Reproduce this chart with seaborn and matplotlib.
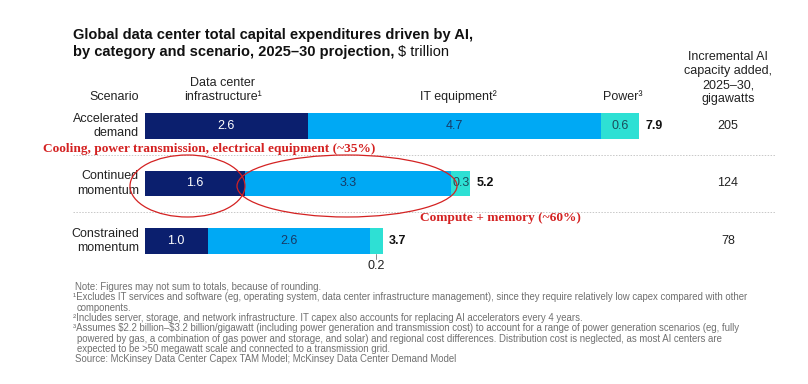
import numpy as np
import pandas as pd
import matplotlib
matplotlib.use("Agg")
import matplotlib.pyplot as plt
import seaborn as sns
from matplotlib.patches import Ellipse
from matplotlib.transforms import blended_transform_factory

# ---------------- data ----------------
scenarios = ["Accelerated\ndemand", "Continued\nmomentum", "Constrained\nmomentum"]
dc_infra = [2.6, 1.6, 1.0]
it_equip = [4.7, 3.3, 2.6]
power = [0.6, 0.3, 0.2]
totals = [7.9, 5.2, 3.7]
gigawatts = [205, 124, 78]
categories = ["Data center\ninfrastructure\u00b9", "IT equipment\u00b2", "Power\u00b3"]

# ---------------- style ----------------
W, H = 808, 384
sns.set_theme(style="white")
plt.rcParams['font.family'] = ['Liberation Sans', 'DejaVu Sans']

C_DARK = "#0b1f6e"
C_LIGHT = "#00a9f4"
C_TEAL = "#2ee0d4"
C_RED = "#d42222"
C_TXT = "#222222"
C_GREY = "#707070"

fig = plt.figure(figsize=(W / 100, H / 100), dpi=100)
fig.patch.set_facecolor("white")

# bar axes: x=0 at px 145, 62.5 px per unit; rows at 126, 183.5, 241 px
row_sp = 57.5
top_px = 126 - row_sp / 2
ax = fig.add_axes([145 / W, 1 - (top_px + 3 * row_sp) / H, 625 / W, 3 * row_sp / H])

df = pd.DataFrame({"scenario": scenarios, "dc": dc_infra, "it": it_equip, "pw": power})
df["c1"] = df["dc"]
df["c2"] = df["dc"] + df["it"]
df["c3"] = df["dc"] + df["it"] + df["pw"]

bw = 0.44
sns.barplot(data=df, x="c3", y="scenario", orient="h", color=C_TEAL, width=bw,
            saturation=1, ax=ax, linewidth=0)
sns.barplot(data=df, x="c2", y="scenario", orient="h", color=C_LIGHT, width=bw,
            saturation=1, ax=ax, linewidth=0)
sns.barplot(data=df, x="c1", y="scenario", orient="h", color=C_DARK, width=bw,
            saturation=1, ax=ax, linewidth=0)
ax.set_xlim(0, 10)
ax.set_ylim(2.5, -0.5)
ax.axis("off")

fs = 9
for i in range(len(scenarios)):
    ax.text(df["c1"][i] / 2, i, f"{dc_infra[i]:.1f}", ha="center", va="center",
            color="white", fontsize=fs)
    ax.text(df["c1"][i] + it_equip[i] / 2, i, f"{it_equip[i]:.1f}", ha="center",
            va="center", color="#173a66", fontsize=fs)
    if power[i] >= 0.3:
        ax.text(df["c2"][i] + power[i] / 2, i, f"{power[i]:.1f}", ha="center",
                va="center", color="#1b4d5c", fontsize=fs)
    else:
        xm = df["c2"][i] + power[i] / 2
        ax.plot([xm, xm], [i + bw / 2, i + bw / 2 + 0.09], color="#888888", lw=0.7,
                clip_on=False)
        ax.text(xm, i + bw / 2 + 0.11, f"{power[i]:.1f}", ha="center", va="top",
                color=C_TXT, fontsize=fs)
    ax.text(df["c3"][i] + 0.1, i, f"{totals[i]:.1f}", ha="left", va="center",
            color="#111111", fontsize=fs, fontweight="bold")

bt = blended_transform_factory(fig.transFigure, ax.transData)
for i, s in enumerate(scenarios):
    ax.text(139 / W, i, s, transform=bt, ha="right", va="center", fontsize=fs,
            color=C_TXT, linespacing=1.25)
    ax.text(728 / W, i, str(gigawatts[i]), transform=bt, ha="center", va="center",
            fontsize=fs, color=C_TXT)
for yb in [0.5, 1.5]:
    ax.plot([73 / W, 775 / W], [yb, yb], transform=bt, color="#c8c8c8", lw=0.7,
            ls=(0, (1.5, 1.5)), clip_on=False)

# ---------------- overlay (pixel coordinates) ----------------
ov = fig.add_axes([0, 0, 1, 1], zorder=5)
ov.set_xlim(0, W)
ov.set_ylim(H, 0)
ov.axis("off")
ov.patch.set_alpha(0)

# title
t1 = ov.text(73, 35, "Global data center total capital expenditures driven by AI,",
             fontsize=10.5, fontweight="bold", color="#111111", va="center", ha="left")
t2 = ov.text(73, 52, "by category and scenario, 2025\u201330 projection,",
             fontsize=10.5, fontweight="bold", color="#111111", va="center", ha="left")
fig.canvas.draw()
bb = t2.get_window_extent()
x_end = bb.x1  # display px == pixel x
ov.text(x_end + 4, 52, "\\$ trillion", fontsize=10.5, color="#111111", va="center",
        ha="left")

# column headers
ov.text(139, 97, "Scenario", ha="right", va="center", fontsize=fs, color=C_TXT)
ov.text(223, 90, categories[0], ha="center", va="center", fontsize=fs, color=C_TXT,
        linespacing=1.25)
ov.text(458, 97, categories[1], ha="center", va="center", fontsize=fs, color=C_TXT)
ov.text(623, 97, categories[2], ha="center", va="center", fontsize=fs, color=C_TXT)
ov.text(728, 78, "Incremental AI\ncapacity added,\n2025\u201330,\ngigawatts",
        ha="center", va="center", fontsize=fs, color=C_TXT, linespacing=1.25)

# annotations
ov.text(43, 149, "Cooling, power transmission, electrical equipment (~35%)",
        fontsize=9.6, fontweight="bold", color=C_RED, va="center", ha="left",
        family=["Liberation Serif", "DejaVu Serif"])
ov.text(420, 218, "Compute + memory (~60%)",
        fontsize=9.6, fontweight="bold", color=C_RED, va="center", ha="left",
        family=["Liberation Serif", "DejaVu Serif"])
ov.add_patch(Ellipse((187.5, 186), 115, 62, fill=False, ec=C_RED, lw=0.9))
ov.add_patch(Ellipse((347, 186), 220, 62, fill=False, ec=C_RED, lw=0.9))

# footnotes
notes = [
    (75, "Note: Figures may not sum to totals, because of rounding."),
    (73, "\u00b9Excludes IT services and software (eg, operating system, data center infrastructure management), since they require relatively low capex compared with other"),
    (77, "components."),
    (73, "\u00b2Includes server, storage, and network infrastructure. IT capex also accounts for replacing AI accelerators every 4 years."),
    (73, "\u00b3Assumes \\$2.2 billion\u2013\\$3.2 billion/gigawatt (including power generation and transmission cost) to account for a range of power generation scenarios (eg, fully"),
    (77, "powered by gas, a combination of gas power and storage, and solar) and regional cost differences. Distribution cost is neglected, as most AI centers are"),
    (77, "expected to be >50 megawatt scale and connected to a transmission grid."),
    (75, "Source: McKinsey Data Center Capex TAM Model; McKinsey Data Center Demand Model"),
]
for k, (xx, line) in enumerate(notes):
    ov.text(xx, 287 + k * 10.3, line, fontsize=6.95, color=C_GREY, va="center",
            ha="left")

fig.savefig("out.png", dpi=100, facecolor="white")
